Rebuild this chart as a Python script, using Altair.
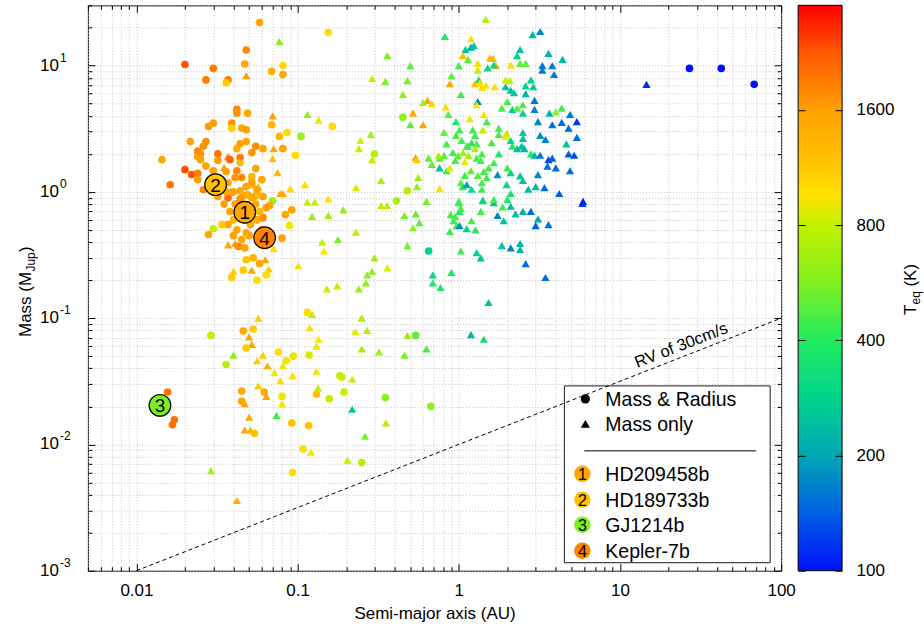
import math
import altair as alt
import pandas as pd

FONT = "Liberation Sans"
W, H = 694, 566
CB_GAP = 17
CB_W = 44

# ---------------- axis ticks / labels ----------------
x_major = [0.01, 0.1, 1, 10, 100]
x_minor = [0.005, 0.006, 0.007, 0.008, 0.009,
           0.02, 0.03, 0.04, 0.05, 0.06, 0.07, 0.08, 0.09,
           0.2, 0.3, 0.4, 0.5, 0.6, 0.7, 0.8, 0.9,
           2, 3, 4, 5, 6, 7, 8, 9,
           20, 30, 40, 50, 60, 70, 80, 90]
y_major = [0.001, 0.01, 0.1, 1, 10]
y_exponents = ["-3", "-2", "-1", "0", "1"]
y_minor = [0.002, 0.003, 0.004, 0.005, 0.006, 0.007, 0.008, 0.009,
           0.02, 0.03, 0.04, 0.05, 0.06, 0.07, 0.08, 0.09,
           0.2, 0.3, 0.4, 0.5, 0.6, 0.7, 0.8, 0.9,
           2, 3, 4, 5, 6, 7, 8, 9, 20, 30]
cb_ticks = [100, 200, 400, 800, 1600]

# colour map (T_eq in K -> colour), jet-like
T_stops = [100, 141, 200, 283, 400, 566, 800, 950, 1131, 1600, 2263, 3000]
C_stops = ["#0010ff", "#0060e4", "#00a6b4", "#00d48c", "#22ea5e", "#80f020",
           "#c4f000", "#ffe400", "#ffc800", "#ffa000", "#ff5800", "#ff0000"]

# ---------------- data: (semi-major axis AU, mass MJup, Teq K) ----------------
circle_points = [
    (0.058, 21.9, 1500), (0.155, 18.3, 1000), (0.048, 13.3, 1800), (0.020, 10.2, 2300), (0.030, 9.5, 1900),
    (0.047, 10.3, 1500), (0.081, 10.0, 1000), (0.069, 9.0, 1400), (0.081, 8.5, 1500), (0.027, 7.7, 1900),
    (0.037, 7.7, 1900), (0.036, 7.3, 1100), (0.042, 4.5, 1800), (0.042, 4.2, 1700), (0.049, 4.2, 1500),
    (0.030, 3.5, 1600), (0.028, 3.3, 1600), (0.039, 3.5, 1700), (0.039, 3.2, 1100), (0.045, 3.2, 1500),
    (0.048, 3.1, 1600), (0.069, 3.4, 1300), (0.086, 2.95, 1000), (0.164, 3.3, 1000), (0.077, 2.75, 1300),
    (0.105, 2.75, 650), (0.0216, 2.5, 1500), (0.027, 2.5, 1700), (0.048, 2.5, 1500), (0.026, 2.3, 1700),
    (0.024, 2.1, 1800), (0.025, 2.0, 1700), (0.032, 2.0, 2000), (0.042, 2.2, 1400), (0.044, 2.4, 1600),
    (0.052, 2.05, 1700), (0.055, 2.3, 1800), (0.061, 2.2, 1500), (0.081, 2.2, 1500), (0.097, 1.95, 1000),
    (0.0144, 1.8, 1500), (0.024, 1.9, 1600), (0.025, 1.8, 1600), (0.032, 1.77, 1600), (0.038, 1.8, 2100),
    (0.044, 1.87, 1900), (0.044, 1.7, 1300), (0.027, 1.6, 1600), (0.020, 1.5, 2300), (0.022, 1.37, 2300),
    (0.024, 1.4, 1900), (0.030, 1.47, 1600), (0.036, 1.45, 1600), (0.042, 1.47, 1800), (0.055, 1.53, 1600),
    (0.0162, 1.14, 2000), (0.024, 1.25, 1600), (0.045, 1.3, 1800), (0.052, 1.32, 1300), (0.037, 1.18, 1500),
    (0.026, 1.04, 1800), (0.040, 1.0, 1500), (0.048, 1.1, 1500), (0.052, 1.14, 1300), (0.061, 0.92, 1500),
    (0.054, 0.92, 1500), (0.032, 0.92, 1500),
    (0.070, 0.85, 650), (0.067, 0.78, 1500), (0.092, 0.72, 1500), (0.084, 0.66, 1500), (0.046, 0.93, 1500),
    (0.052, 0.9, 1500), (0.037, 0.9, 2100), (0.039, 0.99, 1600), (0.044, 1.02, 1500), (0.056, 1.04, 1500),
    (0.037, 0.55, 1500), (0.034, 0.55, 1100), (0.030, 0.51, 800), (0.028, 0.46, 1500), (0.042, 0.50, 1500),
    (0.048, 0.475, 1500), (0.056, 0.6, 1500), (0.061, 0.625, 1800), (0.043, 0.37, 1800), (0.089, 0.54, 900),
    (0.080, 0.43, 1600), (0.041, 0.8, 1500), (0.045, 0.75, 1600), (0.050, 0.7, 1500), (0.043, 0.65, 1500),
    (0.047, 0.6, 1400), (0.051, 0.55, 1500), (0.040, 0.6, 1300), (0.055, 0.8, 1500), (0.038, 0.7, 1500),
    (0.044, 0.88, 1700), (0.049, 0.95, 1400), (0.035, 0.8, 1600), (0.058, 0.7, 1300), (0.050, 0.45, 1500),
    (0.045, 0.42, 1500), (0.060, 0.5, 1500), (0.040, 0.45, 1600), (0.047, 0.36, 1500), (0.052, 1.2, 1600),
    (0.041, 1.3, 1700), (0.034, 1.1, 1700), (0.060, 1.25, 1500), (0.036, 1.0, 1500), (0.057, 0.95, 1300),
    (0.064, 0.75, 1600),
    (0.048, 0.29, 1200), (0.053, 0.30, 1400), (0.058, 0.27, 1500), (0.046, 0.24, 1100), (0.039, 0.21, 1100),
    (0.056, 0.2, 1000), (0.064, 0.22, 1000), (0.115, 0.111, 1000), (0.046, 0.079, 1500), (0.053, 0.082, 1100),
    (0.029, 0.073, 750), (0.048, 0.058, 1100), (0.076, 0.054, 1000), (0.094, 0.05, 900), (0.085, 0.046, 900),
    (0.118, 0.051, 850), (0.036, 0.043, 750), (0.183, 0.035, 750),
    (0.0156, 0.026, 2000), (0.0172, 0.0157, 2000), (0.0167, 0.0143, 2000), (0.045, 0.0265, 1500),
    (0.045, 0.022, 1500), (0.062, 0.026, 1500), (0.080, 0.024, 900), (0.054, 0.0122, 1200),
    (0.092, 0.0148, 1200), (0.117, 0.0141, 1200), (0.131, 0.025, 1200), (0.157, 0.023, 800),
    (0.188, 0.034, 800), (0.194, 0.026, 800), (0.108, 0.0092, 1000), (0.093, 0.006, 1000),
    (0.35, 0.0235, 600), (0.67, 0.02, 600), (0.25, 0.0072, 750),
    (0.48, 1.02, 750), (0.41, 0.85, 700), (0.65, 0.34, 280), (0.54, 0.073, 500), (0.30, 2.0, 750),
    (0.45, 3.9, 600),
    (27, 9.5, 100), (42.5, 9.5, 100), (68, 7.1, 100),
]

triangle_points = [
    (0.077, 15.5, 600), (0.048, 8.3, 1600), (0.070, 4.0, 1600), (0.115, 4.1, 650), (0.135, 3.7, 900),
    (0.071, 2.2, 1500), (0.070, 1.84, 1200), (0.032, 1.9, 1500), (0.037, 1.9, 1800), (0.035, 1.56, 1600),
    (0.075, 1.42, 1300), (0.111, 1.14, 1000), (0.090, 1.06, 1000), (0.078, 0.97, 1500), (0.081, 0.97, 1500),
    (0.057, 1.1, 1200), (0.155, 0.88, 1000),
    (0.115, 0.83, 800), (0.128, 0.83, 800), (0.123, 0.64, 650), (0.155, 0.65, 650), (0.192, 0.72, 600),
    (0.142, 0.4, 800), (0.178, 0.42, 550), (0.146, 0.34, 950), (0.037, 0.38, 1500), (0.041, 0.39, 1600),
    (0.063, 0.29, 1500), (0.071, 0.355, 1000), (0.066, 0.245, 1100), (0.052, 0.24, 1500), (0.040, 0.235, 1100),
    (0.101, 0.26, 1000), (0.152, 0.17, 800), (0.176, 0.18, 800), (0.057, 0.1, 1100), (0.123, 0.107, 800),
    (0.119, 0.084, 1000), (0.050, 0.071, 1500), (0.135, 0.068, 950), (0.052, 0.062, 1500), (0.131, 0.06, 900),
    (0.061, 0.051, 1100), (0.040, 0.051, 600), (0.056, 0.046, 1100), (0.081, 0.042, 900), (0.065, 0.042, 1400),
    (0.072, 0.037, 900), (0.093, 0.035, 1000), (0.131, 0.038, 900),
    (0.057, 0.029, 1100), (0.064, 0.024, 1500), (0.078, 0.032, 1000), (0.047, 0.021, 1500), (0.050, 0.0164, 1500),
    (0.047, 0.013, 1500), (0.051, 0.013, 1300), (0.080, 0.021, 900), (0.074, 0.017, 450), (0.134, 0.028, 750),
    (0.121, 0.0087, 900), (0.204, 0.0075, 800), (0.029, 0.0062, 700), (0.042, 0.0036, 1400),
    (0.218, 0.033, 800), (0.218, 0.019, 250), (0.353, 0.0148, 750), (0.262, 0.0116, 550),
    (0.33, 0.78, 750), (0.36, 0.78, 750), (0.63, 0.84, 550), (0.46, 0.65, 550), (0.54, 0.67, 500),
    (0.57, 0.57, 500), (0.52, 0.52, 600), (0.23, 0.48, 750), (0.48, 0.375, 550), (0.30, 0.30, 650),
    (0.36, 0.25, 850), (0.29, 0.235, 600), (0.27, 0.22, 600), (0.265, 0.19, 600), (0.24, 0.17, 650),
    (0.69, 0.22, 300), (0.69, 0.19, 380), (0.77, 0.175, 380), (0.90, 0.23, 380), (1.01, 0.70, 400),
    (0.89, 0.66, 450), (0.95, 0.64, 450), (0.93, 0.59, 450), (0.97, 0.54, 450), (0.88, 0.485, 450),
    (1.01, 0.54, 180), (1.12, 0.51, 280), (1.27, 0.50, 400), (1.2, 0.59, 450), (1.37, 0.70, 450),
    (1.03, 0.74, 450), (1.0, 0.82, 380), (1.41, 0.86, 300), (1.03, 0.34, 450), (1.29, 0.33, 280),
    (1.37, 0.30, 250), (1.53, 0.133, 250), (1.19, 0.074, 230), (1.43, 0.068, 330), (0.25, 0.1, 700),
    (0.228, 0.078, 850), (0.27, 0.08, 750), (0.48, 0.073, 650), (0.25, 0.057, 650), (0.32, 0.054, 650),
    (0.46, 0.051, 550), (0.63, 0.057, 450), (1.65, 0.82, 250), (1.87, 0.76, 450), (1.74, 0.65, 170),
    (1.9, 0.59, 250), (2.1, 0.77, 250), (2.25, 0.67, 250), (2.5, 0.70, 220), (2.8, 0.70, 150),
    (3.1, 0.61, 200), (3.0, 0.54, 140), (3.6, 0.55, 150), (1.85, 0.375, 250), (2.1, 0.36, 170),
    (2.4, 0.39, 220), (2.4, 0.35, 230), (2.6, 0.27, 150), (3.45, 0.21, 150), (5.85, 0.81, 120),
    (1.47, 23.2, 700), (0.82, 17, 400), (1.19, 16.3, 900), (2.87, 17.6, 230), (3.2, 18.6, 170),
    (2.4, 13.4, 250), (3.6, 12.5, 220), (4.4, 11.2, 230), (1.1, 13.4, 250), (1.19, 14, 200),
    (1.24, 14.4, 250), (2.3, 12, 280), (1.06, 12, 1200), (1.14, 11.2, 500), (1.56, 11.5, 1300),
    (1.63, 11.4, 1300), (1.7, 10, 1300), (1.0, 10, 450), (1.31, 10.4, 1000), (1.31, 9.2, 800),
    (1.51, 9.6, 300), (1.65, 10.1, 300), (2.1, 10.1, 1000), (2.4, 10.4, 500), (2.6, 10.4, 500),
    (3.3, 10, 160), (3.8, 10, 160), (3.3, 9.2, 160), (3.9, 8.5, 160), (0.36, 12, 550),
    (0.5, 10, 500), (0.29, 7.9, 800), (0.35, 7.5, 550), (0.48, 7.6, 550), (0.9, 8.3, 500),
    (0.88, 7.2, 1500), (1.33, 7.7, 300), (1.26, 7.2, 1200), (1.35, 7.3, 1000), (1.47, 7.0, 1000),
    (1.39, 6.7, 1000), (1.67, 6.8, 1000), (1.95, 7.7, 800), (2.07, 7.6, 800), (1.95, 6.8, 250),
    (2.1, 6.4, 250), (2.2, 6.1, 250), (2.8, 7.7, 280), (2.6, 6.9, 280), (2.9, 6.8, 260),
    (2.6, 6.0, 230), (0.45, 5.9, 600), (0.64, 5.3, 1500), (0.6, 5.1, 700), (0.68, 5.0, 1000),
    (0.83, 4.7, 1000), (1.03, 5.9, 450), (1.31, 5.2, 170), (1.29, 4.9, 900), (2.0, 5.2, 450),
    (2.5, 4.9, 450), (2.95, 5.3, 160), (1.85, 4.6, 450), (2.15, 4.5, 280), (2.3, 4.6, 500),
    (2.5, 4.2, 280), (2.95, 4.5, 170), (3.65, 4.2, 230), (4.0, 4.3, 600), (4.35, 4.6, 450),
    (4.9, 4.1, 160), (5.4, 3.6, 120), (0.52, 4.2, 1500), (0.50, 3.4, 500), (0.6, 3.4, 1600),
    (0.86, 4.1, 500), (0.96, 3.6, 400), (1.17, 3.8, 900), (1.43, 4.1, 1000), (1.49, 3.6, 450),
    (1.77, 3.2, 450), (3.1, 3.6, 170), (3.8, 3.4, 150), (4.35, 3.55, 150), (4.8, 3.2, 150),
    (0.245, 2.55, 850), (0.285, 2.85, 700), (0.24, 2.2, 800), (0.29, 1.8, 800), (0.33, 1.23, 700),
    (0.23, 1.08, 850), (0.54, 1.87, 1500), (0.55, 1.8, 1100), (0.56, 1.3, 650), (0.65, 1.85, 500),
    (0.76, 1.85, 500), (0.68, 1.65, 500), (0.55, 1.1, 600), (0.76, 1.06, 900), (0.84, 2.4, 450),
    (0.81, 2.95, 500), (0.96, 2.8, 450), (1.04, 2.55, 450), (1.01, 3.1, 450),
    (1.14, 2.3, 450), (1.2, 2.45, 400), (1.29, 2.4, 450), (1.26, 2.2, 700), (1.39, 2.0, 450),
    (1.29, 1.85, 450), (1.37, 1.77, 450), (1.15, 1.94, 700), (1.09, 1.74, 900), (1.6, 2.45, 450),
    (1.77, 2.85, 450), (1.98, 2.9, 700), (1.95, 2.75, 900), (2.1, 2.55, 280), (2.15, 2.3, 400),
    (2.5, 2.95, 250), (2.5, 2.65, 250), (2.45, 2.3, 250), (2.55, 2.2, 230), (2.3, 2.2, 250),
    (2.8, 2.0, 400), (3.2, 2.8, 180), (3.45, 2.6, 170), (2.95, 1.95, 230), (3.2, 1.95, 160),
    (3.6, 1.8, 130), (3.8, 1.85, 140), (4.8, 2.0, 140), (5.2, 1.95, 130), (5.4, 2.7, 150),
    (4.65, 2.4, 250), (3.55, 1.6, 150), (4.0, 1.55, 150), (4.9, 1.47, 150), (3.1, 1.37, 170),
    (2.7, 1.05, 230), (3.0, 1.1, 230), (3.4, 1.08, 150), (4.2, 0.97, 140), (5.9, 0.84, 110),
    (2.1, 0.97, 350), (2.4, 1.34, 250), (2.1, 1.42, 280), (2.5, 1.23, 250), (2.0, 1.55, 450),
    (1.74, 1.37, 180), (1.77, 2.0, 380), (1.65, 1.7, 450), (1.53, 1.55, 450), (1.43, 1.45, 450),
    (1.49, 1.3, 450), (1.31, 1.35, 500), (1.19, 1.47, 500), (1.09, 1.35, 450), (1.03, 1.18, 500),
    (1.06, 1.1, 400), (1.12, 1.14, 200), (1.2, 1.05, 300), (1.39, 1.18, 450), (1.39, 1.05, 450),
    (1.98, 1.14, 300), (1.65, 0.87, 450), (2.0, 0.87, 400), (1.41, 0.85, 300), (1.0, 0.84, 450),
    (0.76, 1.55, 230), (0.84, 1.47, 450), (0.88, 1.55, 900), (0.75, 1.94, 700), (0.81, 1.94, 500),
    (0.92, 2.05, 450), (0.99, 1.94, 500), (0.95, 1.77, 450), (1.06, 2.05, 700), (1.12, 2.3, 450),
    (1.22, 3.1, 450), (1.26, 2.8, 450), (1.41, 3.1, 800),
    (14.6, 7.1, 110),
]

# highlighted planets
planet_names = ["HD209458b", "HD189733b", "GJ1214b", "Kepler-7b"]
planet_nums = ["1", "2", "3", "4"]
planet_a = [0.047, 0.031, 0.014, 0.0624]
planet_m = [0.69, 1.14, 0.0204, 0.433]
planet_t = [1500, 1200, 560, 1850]

# RV 30 cm/s detection limit line
rv_a = [0.01, 100]
rv_m = [0.001, 0.1]

# ---------------- scales ----------------
xs = alt.Scale(type="log", domain=[0.005, 100], nice=False)
ys = alt.Scale(type="log", domain=[0.001, 30], nice=False)
cs = alt.Scale(type="log", domain=T_stops, range=C_stops, interpolate="rgb")
cbs = alt.Scale(type="log", domain=[100, 3000], nice=False)

circ_df = pd.DataFrame(circle_points, columns=["a", "m", "t"])
tri_df = pd.DataFrame(triangle_points, columns=["a", "m", "t"])
frame_df = pd.DataFrame({"a": [0.005, 100], "m": [0.001, 30]})
one = pd.DataFrame({"k": [0]})
planet_df = pd.DataFrame({"a": planet_a, "m": planet_m, "t": planet_t, "n": planet_nums, "name": planet_names})
rv_df = pd.DataFrame({"a": rv_a, "m": rv_m})
ylab_df = pd.DataFrame({"m": y_major, "e": y_exponents})
cb_df = pd.DataFrame({"t": [100, 3000]})

# ---------------- grid ----------------
grid = alt.Chart(frame_df).mark_point(opacity=0).encode(
    x=alt.X("a:Q", scale=xs, axis=alt.Axis(values=x_major + x_minor, grid=True, gridColor="#c4c4c4",
                                           gridDash=[1, 2], gridWidth=1, ticks=False, labels=False,
                                           domain=False, title=None)),
    y=alt.Y("m:Q", scale=ys, axis=alt.Axis(values=y_major + y_minor, grid=True, gridColor="#c4c4c4",
                                           gridDash=[1, 2], gridWidth=1, ticks=False, labels=False,
                                           domain=False, title=None)),
)


def tick_layer(xorient, yorient, xvals, yvals, size):
    common = dict(labels=False, domain=False, grid=False, title=None, tickColor="black",
                  tickWidth=1, tickSize=size, zindex=2)
    return alt.Chart(frame_df).mark_point(opacity=0).encode(
        x=alt.X("a:Q", scale=xs, axis=alt.Axis(orient=xorient, offset=-H, values=xvals, **common)),
        y=alt.Y("m:Q", scale=ys, axis=alt.Axis(orient=yorient, offset=-W, values=yvals, **common)),
    )


ticks_bl_major = tick_layer("top", "right", x_major, y_major, 7)
ticks_bl_minor = tick_layer("top", "right", x_minor, y_minor, 4)
ticks_tr_major = tick_layer("bottom", "left", x_major, y_major, 7)
ticks_tr_minor = tick_layer("bottom", "left", x_minor, y_minor, 4)

xlabels = alt.Chart(frame_df).mark_point(opacity=0).encode(
    x=alt.X("a:Q", scale=xs, axis=alt.Axis(orient="bottom", values=x_major, format="~g", ticks=False,
                                           domain=False, grid=False, labelFont=FONT, labelFontSize=17,
                                           labelColor="black", labelPadding=12, labelFlush=False,
                                           title="Semi-major axis (AU)", titleFont=FONT, titleFontSize=17,
                                           titleFontWeight="normal", titleColor="black", titlePadding=7,
                                           zindex=2)),
    y=alt.Y("m:Q", scale=ys, axis=None),
)

ylab_base = alt.Chart(ylab_df).mark_text(align="right", baseline="middle", font=FONT, fontSize=17,
                                         color="black", text="10").encode(
    x=alt.value(-29), y=alt.Y("m:Q", scale=ys, axis=None))
ylab_exp = alt.Chart(ylab_df).mark_text(align="left", baseline="middle", font=FONT, fontSize=12,
                                        color="black", dy=-8).encode(
    x=alt.value(-28), y=alt.Y("m:Q", scale=ys, axis=None), text="e:N")


def rot_text(txt, x, y, size, dx=0, dy=0):
    return alt.Chart(one).mark_text(text=txt, angle=270, align="left", baseline="alphabetic", font=FONT,
                                    fontSize=size, dx=dx, dy=dy, color="black").encode(
        x=alt.value(x), y=alt.value(y))


YT_X, YT_Y = -57, 332
ytitle = [rot_text("Mass (M", YT_X, YT_Y, 17),
          rot_text("Jup", YT_X, YT_Y, 12, dx=65.5, dy=4),
          rot_text(")", YT_X, YT_Y, 17, dx=85)]

# ---------------- data marks ----------------
tris = alt.Chart(tri_df).mark_point(shape="triangle-up", filled=True, size=68, opacity=1).encode(
    x=alt.X("a:Q", scale=xs, axis=None), y=alt.Y("m:Q", scale=ys, axis=None),
    color=alt.Color("t:Q", scale=cs, legend=None))
circs = alt.Chart(circ_df).mark_point(shape="circle", filled=True, size=58, opacity=1).encode(
    x=alt.X("a:Q", scale=xs, axis=None), y=alt.Y("m:Q", scale=ys, axis=None),
    color=alt.Color("t:Q", scale=cs, legend=None))

rv_line = alt.Chart(rv_df).mark_line(color="black", strokeWidth=1, strokeDash=[4, 3]).encode(
    x=alt.X("a:Q", scale=xs, axis=None), y=alt.Y("m:Q", scale=ys, axis=None))
rv_text = alt.Chart(pd.DataFrame({"a": [25.4], "m": [0.0504]})).mark_text(
    text="RV of 30cm/s", angle=338.7, align="center", baseline="bottom", dy=-3, font=FONT, fontSize=16.5,
    color="black").encode(x=alt.X("a:Q", scale=xs, axis=None), y=alt.Y("m:Q", scale=ys, axis=None))

ann_circ = alt.Chart(planet_df).mark_point(shape="circle", filled=True, size=470, opacity=1, stroke="black",
                                           strokeWidth=1.2).encode(
    x=alt.X("a:Q", scale=xs, axis=None), y=alt.Y("m:Q", scale=ys, axis=None),
    fill=alt.Fill("t:Q", scale=cs, legend=None))
ann_num = alt.Chart(planet_df).mark_text(font=FONT, fontSize=19, color="black", align="center",
                                         baseline="middle", dy=1).encode(
    x=alt.X("a:Q", scale=xs, axis=None), y=alt.Y("m:Q", scale=ys, axis=None), text="n:N")

# ---------------- in-plot legend ----------------
LEG_FS = 19.5
leg_box = alt.Chart(one).mark_rect(fill="white", stroke="#1a1a1a", strokeWidth=1).encode(
    x=alt.value(477), x2=alt.value(683), y=alt.value(381), y2=alt.value(558))
leg_layers = [
    alt.Chart(one).mark_point(shape="circle", filled=True, color="black", size=85, opacity=1).encode(
        x=alt.value(498), y=alt.value(394)),
    alt.Chart(one).mark_text(text="Mass & Radius", align="left", baseline="middle", font=FONT,
                             fontSize=LEG_FS, color="black").encode(x=alt.value(518), y=alt.value(395)),
    alt.Chart(one).mark_point(shape="triangle-up", filled=True, color="black", size=85, opacity=1).encode(
        x=alt.value(498), y=alt.value(419)),
    alt.Chart(one).mark_text(text="Mass only", align="left", baseline="middle", font=FONT,
                             fontSize=LEG_FS, color="black").encode(x=alt.value(518), y=alt.value(420)),
    alt.Chart(one).mark_rule(color="black", strokeWidth=1).encode(
        x=alt.value(497), x2=alt.value(669), y=alt.value(446)),
]
leg_rows = [469, 495, 520, 546]
for i in range(4):
    row_df = planet_df.iloc[[i]]
    leg_layers.append(alt.Chart(row_df).mark_point(shape="circle", filled=True, size=270, opacity=1,
                                                   strokeWidth=0).encode(
        x=alt.value(495), y=alt.value(leg_rows[i]), fill=alt.Fill("t:Q", scale=cs, legend=None)))
    leg_layers.append(alt.Chart(row_df).mark_text(font=FONT, fontSize=16, color="black", align="center",
                                                  baseline="middle", dy=1).encode(
        x=alt.value(495), y=alt.value(leg_rows[i]), text="n:N"))
    leg_layers.append(alt.Chart(row_df).mark_text(font=FONT, fontSize=LEG_FS, color="black", align="left",
                                                  baseline="middle", dy=1).encode(
        x=alt.value(518), y=alt.value(leg_rows[i]), text="name:N"))

# ---------------- colour bar (drawn to the right of the plot) ----------------
CB_X0 = W + CB_GAP
CB_X1 = CB_X0 + CB_W
grad = alt.LinearGradient(
    gradient="linear",
    stops=[alt.GradientStop(offset=min(1.0, math.log(t / 100) / math.log(30)), color=c)
           for t, c in zip(T_stops, C_stops)],
    x1=0, x2=0, y1=1, y2=0)
cb_rect = alt.Chart(one).mark_rect(color=grad, stroke="black", strokeWidth=1).encode(
    x=alt.value(CB_X0), x2=alt.value(CB_X1), y=alt.value(0), y2=alt.value(H))
cb_labels = alt.Chart(cb_df).mark_point(opacity=0).encode(
    x=alt.value(CB_X0 + 5),
    y=alt.Y("t:Q", scale=cbs, axis=alt.Axis(orient="right", offset=CB_GAP + CB_W, values=cb_ticks,
                                            format="d", ticks=False, domain=False, grid=False,
                                            labelFont=FONT, labelFontSize=17, labelColor="black",
                                            labelPadding=14, title=None, zindex=2)))
cb_tick_l = alt.Chart(cb_df).mark_point(opacity=0).encode(
    x=alt.value(CB_X0 + 5),
    y=alt.Y("t:Q", scale=cbs, axis=alt.Axis(orient="right", offset=CB_GAP, values=cb_ticks, tickSize=7,
                                            tickColor="black", labels=False, domain=False, grid=False,
                                            title=None, zindex=2)))
cb_tick_r = alt.Chart(cb_df).mark_point(opacity=0).encode(
    x=alt.value(CB_X0 + 5),
    y=alt.Y("t:Q", scale=cbs, axis=alt.Axis(orient="left", offset=-CB_X1, values=cb_ticks, tickSize=7,
                                            tickColor="black", labels=False, domain=False, grid=False,
                                            title=None, zindex=2)))
CB_TX = CB_X0 + 118
cb_title = [
    rot_text("T", CB_TX, 310, 17),
    rot_text("eq", CB_TX, 310, 12, dx=10.6, dy=4),
    rot_text("(K)", CB_TX, 310, 17, dx=28.5),
]

chart = alt.layer(
    grid, tris, circs, leg_box, rv_line, rv_text, ann_circ, ann_num, *leg_layers,
    ticks_bl_major, ticks_bl_minor, ticks_tr_major, ticks_tr_minor, xlabels, ylab_base, ylab_exp, *ytitle,
    cb_rect, cb_labels, cb_tick_l, cb_tick_r, *cb_title,
).resolve_scale(y="independent").resolve_axis(x="independent", y="independent").properties(
    width=W, height=H, padding={"left": 17, "top": 2, "right": 2, "bottom": 2}, background="white"
).configure_view(stroke="black", strokeWidth=1)

chart.save("out.html", embed_options={"renderer": "svg", "actions": False})
